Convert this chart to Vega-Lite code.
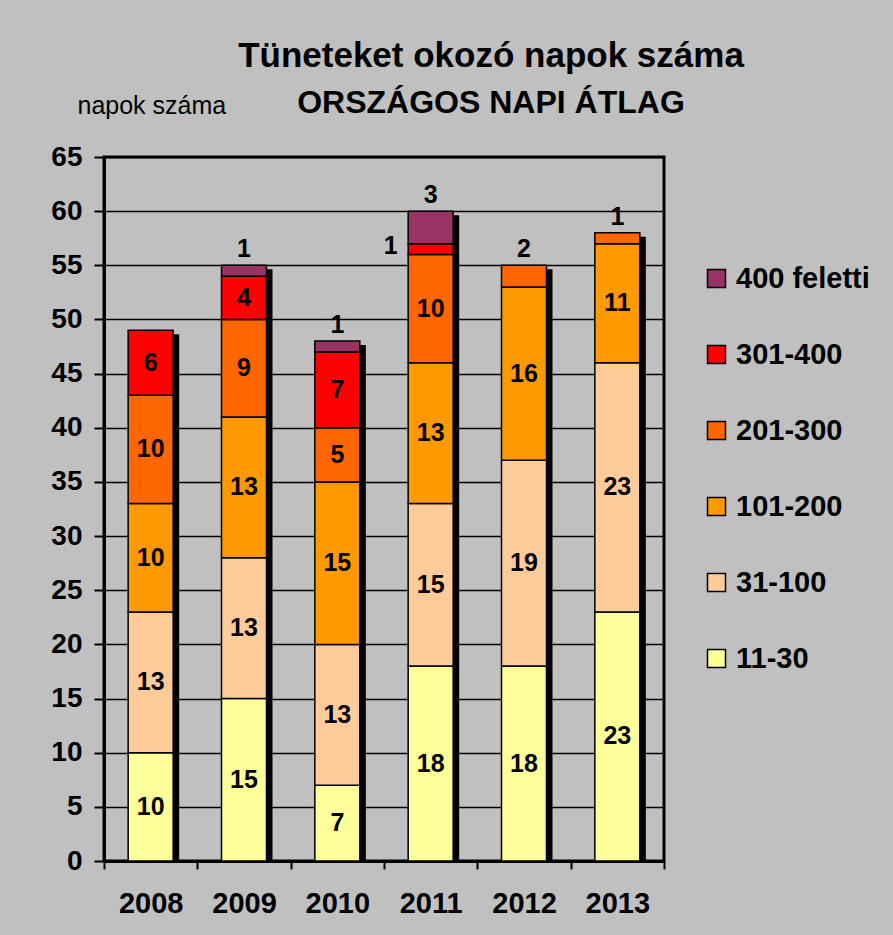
{
  "$schema": "https://vega.github.io/schema/vega-lite/v6.json",
  "width": 560,
  "height": 704,
  "autosize": {"type": "none"},
  "padding": {"left": 104, "top": 157, "right": 229, "bottom": 74},
  "background": "#C0C0C0",
  "config": {"font": "Liberation Sans", "view": {"stroke": "black", "strokeWidth": 3}},
  "title": {
    "text": "Tüneteket okozó napok száma",
    "subtitle": "ORSZÁGOS NAPI ÁTLAG",
    "anchor": "middle",
    "dx": 107,
    "offset": -26,
    "font": "Liberation Sans",
    "fontSize": 35,
    "fontWeight": "bold",
    "color": "black",
    "subtitleFont": "Liberation Sans",
    "subtitleFontSize": 32,
    "subtitleFontWeight": "bold",
    "subtitleColor": "black",
    "subtitlePadding": 14
  },
  "data": {
    "values": [
      {"year": "2008", "cat": "11-30", "v": 10},
      {"year": "2008", "cat": "31-100", "v": 13},
      {"year": "2008", "cat": "101-200", "v": 10},
      {"year": "2008", "cat": "201-300", "v": 10},
      {"year": "2008", "cat": "301-400", "v": 6},
      {"year": "2009", "cat": "11-30", "v": 15},
      {"year": "2009", "cat": "31-100", "v": 13},
      {"year": "2009", "cat": "101-200", "v": 13},
      {"year": "2009", "cat": "201-300", "v": 9},
      {"year": "2009", "cat": "301-400", "v": 4},
      {"year": "2009", "cat": "400 feletti", "v": 1},
      {"year": "2010", "cat": "11-30", "v": 7},
      {"year": "2010", "cat": "31-100", "v": 13},
      {"year": "2010", "cat": "101-200", "v": 15},
      {"year": "2010", "cat": "201-300", "v": 5},
      {"year": "2010", "cat": "301-400", "v": 7},
      {"year": "2010", "cat": "400 feletti", "v": 1},
      {"year": "2011", "cat": "11-30", "v": 18},
      {"year": "2011", "cat": "31-100", "v": 15},
      {"year": "2011", "cat": "101-200", "v": 13},
      {"year": "2011", "cat": "201-300", "v": 10},
      {"year": "2011", "cat": "301-400", "v": 1},
      {"year": "2011", "cat": "400 feletti", "v": 3},
      {"year": "2012", "cat": "11-30", "v": 18},
      {"year": "2012", "cat": "31-100", "v": 19},
      {"year": "2012", "cat": "101-200", "v": 16},
      {"year": "2012", "cat": "201-300", "v": 2},
      {"year": "2013", "cat": "11-30", "v": 23},
      {"year": "2013", "cat": "31-100", "v": 23},
      {"year": "2013", "cat": "101-200", "v": 11},
      {"year": "2013", "cat": "201-300", "v": 1}
    ]
  },
  "transform": [
    {"stack": "v", "groupby": ["year"], "as": ["v0", "v1"]},
    {"calculate": "(datum.v0 + datum.v1) / 2", "as": "mid"}
  ],
  "encoding": {
    "x": {
      "field": "year",
      "type": "nominal",
      "scale": {"paddingInner": 0, "paddingOuter": 0},
      "axis": {
        "title": null,
        "labelAngle": 0,
        "labelFont": "Liberation Sans",
        "labelFontSize": 29,
        "labelFontWeight": "bold",
        "labelColor": "black",
        "labelPadding": 20,
        "tickBand": "extent",
        "tickSize": 8,
        "tickWidth": 2,
        "tickColor": "black",
        "domainColor": "black",
        "domainWidth": 3,
        "grid": false
      }
    }
  },
  "layer": [
    {
      "mark": {"type": "bar", "color": "black", "width": 45, "xOffset": 6, "yOffset": 4, "clip": true},
      "encoding": {
        "y": {
          "aggregate": "sum",
          "field": "v",
          "type": "quantitative",
          "scale": {"domain": [0, 65], "nice": false},
          "axis": {
            "values": [0, 5, 10, 15, 20, 25, 30, 35, 40, 45, 50, 55, 60, 65],
            "title": "napok száma",
            "titleAngle": 0,
            "titleX": -27,
            "titleY": -44,
            "titleAlign": "left",
            "titleBaseline": "alphabetic",
            "titleFont": "Liberation Sans",
            "titleFontSize": 25,
            "titleFontWeight": "normal",
            "titleColor": "black",
            "labelFont": "Liberation Sans",
            "labelFontSize": 28,
            "labelFontWeight": "bold",
            "labelColor": "black",
            "labelPadding": 12,
            "tickSize": 10,
            "tickWidth": 2,
            "tickColor": "black",
            "domainColor": "black",
            "domainWidth": 3,
            "gridColor": "black",
            "gridWidth": 1.5,
            "gridOpacity": 1
          }
        }
      }
    },
    {
      "mark": {"type": "bar", "width": 45, "stroke": "black", "strokeWidth": 1.5},
      "encoding": {
        "y": {"field": "v0", "type": "quantitative"},
        "y2": {"field": "v1"},
        "color": {
          "field": "cat",
          "type": "nominal",
          "scale": {
            "domain": ["11-30", "31-100", "101-200", "201-300", "301-400", "400 feletti"],
            "range": ["#FFFF99", "#FFCC99", "#FF9900", "#FF6600", "#FF0000", "#993366"]
          },
          "legend": {
            "values": ["400 feletti", "301-400", "201-300", "101-200", "31-100", "11-30"],
            "orient": "none",
            "legendX": 598,
            "legendY": 107,
            "title": null,
            "padding": 0,
            "symbolType": "square",
            "symbolSize": 324,
            "symbolStrokeColor": "black",
            "symbolStrokeWidth": 1.5,
            "symbolOpacity": 1,
            "labelFont": "Liberation Sans",
            "labelFontSize": 29,
            "labelFontWeight": "bold",
            "labelColor": "black",
            "labelOffset": 5,
            "labelLimit": 300,
            "rowPadding": 46
          }
        }
      }
    },
    {
      "transform": [{"filter": "datum.v >= 4"}],
      "mark": {"type": "text", "font": "Liberation Sans", "fontSize": 25, "fontWeight": "bold", "color": "black", "baseline": "middle"},
      "encoding": {
        "y": {"field": "mid", "type": "quantitative"},
        "text": {"field": "v", "type": "quantitative"}
      }
    },
    {
      "transform": [{"filter": "datum.v < 4 && !(datum.year == '2011' && datum.cat == '301-400')"}],
      "mark": {"type": "text", "font": "Liberation Sans", "fontSize": 25, "fontWeight": "bold", "color": "black", "baseline": "alphabetic", "dy": -8},
      "encoding": {
        "y": {"field": "v1", "type": "quantitative"},
        "text": {"field": "v", "type": "quantitative"}
      }
    },
    {
      "transform": [{"filter": "datum.year == '2011' && datum.cat == '301-400'"}],
      "mark": {"type": "text", "font": "Liberation Sans", "fontSize": 25, "fontWeight": "bold", "color": "black", "baseline": "middle", "dx": -40, "dy": -3},
      "encoding": {
        "y": {"field": "mid", "type": "quantitative"},
        "text": {"field": "v", "type": "quantitative"}
      }
    }
  ]
}
